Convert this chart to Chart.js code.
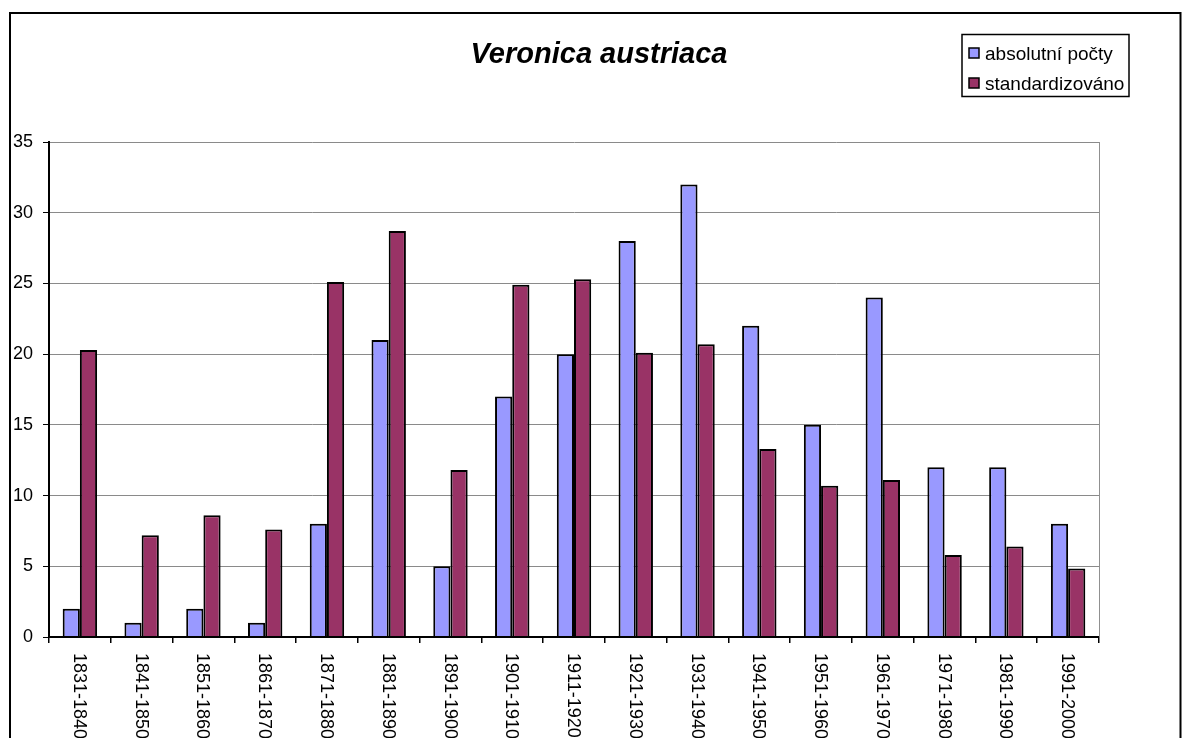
<!DOCTYPE html>
<html>
<head>
<meta charset="utf-8">
<script src="https://cdn.jsdelivr.net/npm/chart.js@4/dist/chart.umd.min.js"></script>
<style>
  body { margin: 0; background: #fff; }
  #wrap { width: 1183px; height: 738px; position: relative; }
</style>
</head>
<body>
<div id="wrap"><canvas id="chart" width="1183" height="738"></canvas></div>
<script>
const titleText = "Veronica austriaca";
const periods = ["1831-1840", "1841-1850", "1851-1860", "1861-1870", "1871-1880", "1881-1890",
    "1891-1900", "1901-1910", "1911-1920", "1921-1930", "1931-1940", "1941-1950",
    "1951-1960", "1961-1970", "1971-1980", "1981-1990", "1991-2000"];
const absoluteCounts = [2, 1, 2, 1, 8, 21, 5, 17, 20, 28, 32, 22, 15, 24, 12, 12, 8];
const standardized = [20.3, 7.2, 8.6, 7.6, 25.1, 28.7, 11.8, 24.9, 25.3, 20.1, 20.7, 13.3, 10.7, 11.1, 5.8, 6.4, 4.85];
const seriesNames = ["absolutní počty", "standardizováno"];
const seriesColors = ["#9999FF", "#993366"];

const font = "'Liberation Sans', Arial, sans-serif";

// frame, title, rotated x labels, boxed legend
const decorPlugin = {
    id: "decor",
    afterDraw(chart) {
        const ctx = chart.ctx;
        const area = chart.chartArea;
        const xScale = chart.scales.x;
        ctx.save();

        // right edge of the plot area
        ctx.strokeStyle = "#909090";
        ctx.lineWidth = 1;
        ctx.beginPath();
        ctx.moveTo(area.right + 0.5, area.top);
        ctx.lineTo(area.right + 0.5, area.bottom);
        ctx.stroke();

        // axis line over the bar bottoms
        ctx.strokeStyle = "#000";
        ctx.lineWidth = 2;
        ctx.beginPath();
        ctx.moveTo(area.left, area.bottom);
        ctx.lineTo(area.right, area.bottom);
        ctx.stroke();

        // outer frame
        ctx.strokeRect(10, 13, 1170.5, 800);

        // title
        ctx.fillStyle = "#000";
        ctx.font = "italic bold 29px " + font;
        ctx.textAlign = "center";
        ctx.textBaseline = "alphabetic";
        ctx.fillText(titleText, 599, 63);

        // x labels, read top to bottom
        ctx.font = "18px " + font;
        ctx.textAlign = "left";
        ctx.textBaseline = "middle";
        periods.forEach((p, i) => {
            const x = xScale.getPixelForValue(i);
            ctx.save();
            ctx.translate(x - 1, 653);
            ctx.rotate(Math.PI / 2);
            ctx.fillText(p, 0, 0);
            ctx.restore();
        });

        // legend
        ctx.lineWidth = 1.5;
        ctx.strokeStyle = "#000";
        ctx.strokeRect(962, 34.5, 167, 62);
        ctx.font = "19px " + font;
        ctx.textBaseline = "alphabetic";
        seriesNames.forEach((name, i) => {
            const y = 48 + i * 30;
            ctx.fillStyle = seriesColors[i];
            ctx.fillRect(969, y, 10, 10);
            ctx.lineWidth = 1.5;
            ctx.strokeRect(969, y, 10, 10);
            ctx.fillStyle = "#000";
            ctx.fillText(name, 985, y + 11.5);
        });
        ctx.restore();
    }
};

new Chart(document.getElementById("chart"), {
    type: "bar",
    data: {
        labels: periods,
        datasets: [
            {
                label: seriesNames[0],
                data: absoluteCounts,
                backgroundColor: seriesColors[0],
                borderColor: "#000",
                borderWidth: 2,
                categoryPercentage: 0.557,
                barPercentage: 1.0
            },
            {
                label: seriesNames[1],
                data: standardized,
                backgroundColor: seriesColors[1],
                borderColor: "#000",
                borderWidth: 2,
                categoryPercentage: 0.557,
                barPercentage: 1.0
            }
        ]
    },
    options: {
        responsive: false,
        animation: false,
        devicePixelRatio: 1,
        layout: { padding: { top: 142, right: 84, left: 0, bottom: 0 } },
        plugins: {
            legend: { display: false },
            title: { display: false },
            tooltip: { enabled: false }
        },
        scales: {
            x: {
                grid: {
                    drawOnChartArea: false,
                    drawTicks: true,
                    tickLength: 6,
                    tickColor: "#000",
                    lineWidth: 1.5,
                    offset: true
                },
                border: { color: "#000", width: 2 },
                ticks: { display: false, autoSkip: false },
                afterFit: (scale) => { scale.height = 101; }
            },
            y: {
                min: 0,
                max: 35,
                ticks: {
                    stepSize: 5,
                    color: "#000",
                    padding: 10,
                    font: { family: font, size: 18 }
                },
                grid: {
                    color: (c) => (c.tick && c.tick.value === 0) ? "rgba(0,0,0,0)" : "#8a8a8a",
                    tickColor: "#000",
                    tickLength: 6,
                    lineWidth: 1
                },
                border: { color: "#000", width: 2 },
                afterFit: (scale) => { scale.width = 49; }
            }
        }
    },
    plugins: [decorPlugin]
});
</script>
</body>
</html>
